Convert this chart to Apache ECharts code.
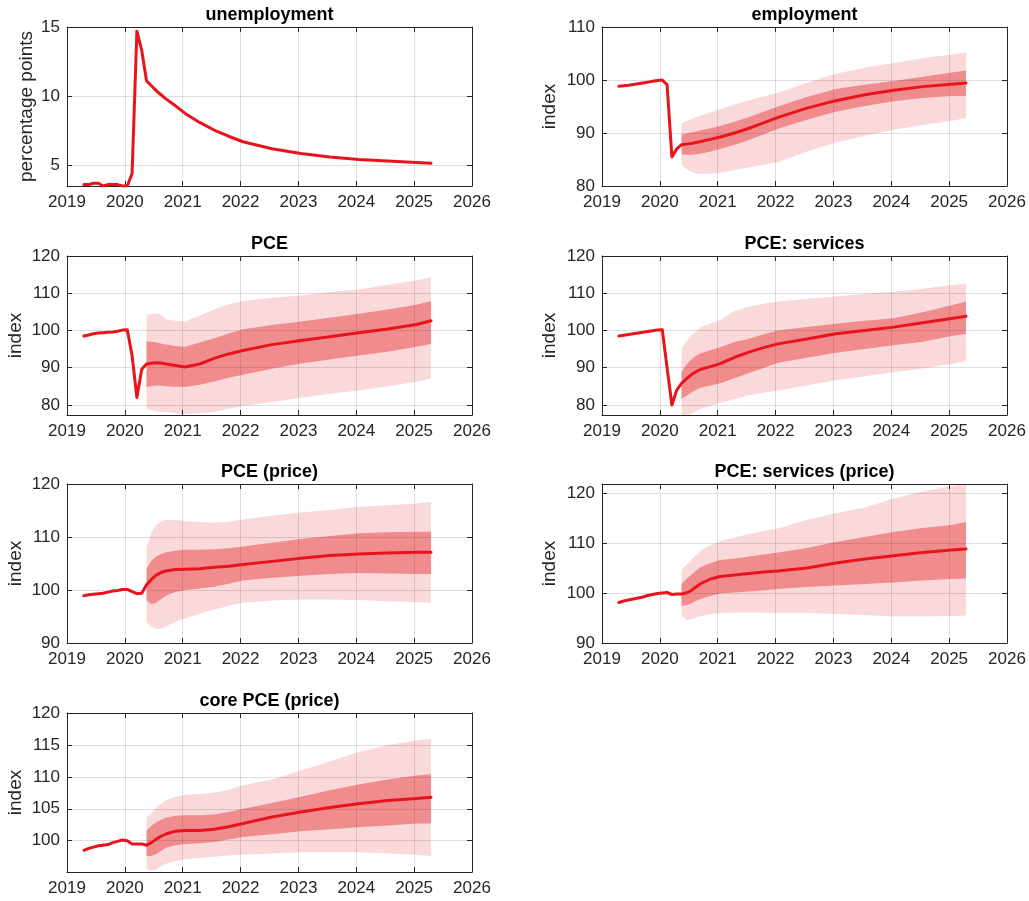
<!DOCTYPE html>
<html>
<head>
<meta charset="utf-8">
<script src="https://cdn.jsdelivr.net/npm/echarts@6/dist/echarts.min.js"></script>
<style>
html,body{margin:0;padding:0;background:#fff;}
#chart{width:1029px;height:901px;}
</style>
</head>
<body>
<div id="chart"></div>
<script>
// ---------- data ----------
const xTicks = [2019, 2020, 2021, 2022, 2023, 2024, 2025, 2026];
// monthly history, May 2019 .. May 2020 (decimal years)
const histX = [2019.292, 2019.375, 2019.458, 2019.542, 2019.625, 2019.708, 2019.792, 2019.875, 2019.958, 2020.042, 2020.125, 2020.208, 2020.292];
// forecast dates, Jun 2020 .. May 2025 (decimal years)
const fcX = [2020.375, 2020.458, 2020.542, 2020.625, 2020.708, 2020.875, 2021.042, 2021.292, 2021.542, 2021.792, 2022.042, 2022.542, 2023.042, 2023.542, 2024.042, 2024.542, 2025.042, 2025.292];

// unemployment
const unempHist = [3.6, 3.6, 3.7, 3.7, 3.5, 3.6, 3.6, 3.6, 3.5, 3.5, 4.4, 14.7, 13.3];
const unempMed  = [11.1, 10.75, 10.4, 10.1, 9.8, 9.3, 8.75, 8.1, 7.55, 7.1, 6.7, 6.2, 5.85, 5.6, 5.42, 5.3, 5.2, 5.15];

// employment
const empHist = [98.8, 98.9, 99.0, 99.15, 99.3, 99.45, 99.6, 99.75, 99.9, 100.0, 99.1, 85.5, 87.0];
const empMed  = [87.8, 87.9, 88.0, 88.2, 88.4, 88.8, 89.25, 90.0, 90.9, 91.9, 92.95, 94.7, 96.1, 97.2, 98.05, 98.75, 99.2, 99.45];
const empHi68 = [89.7, 89.9, 90.1, 90.3, 90.5, 90.9, 91.3, 92.1, 93.0, 94.0, 95.0, 96.8, 98.3, 99.1, 99.8, 100.6, 101.4, 101.8];
const empLo68 = [86.0, 85.9, 85.9, 86.0, 86.1, 86.5, 87.0, 87.8, 88.7, 89.7, 90.8, 92.5, 94.0, 95.1, 96.0, 96.6, 97.0, 97.0];
const empHi90 = [91.8, 92.2, 92.6, 93.0, 93.3, 93.9, 94.5, 95.4, 96.2, 96.9, 97.6, 99.5, 101.2, 102.3, 103.2, 104.1, 104.8, 105.2];
const empLo90 = [84.0, 83.2, 82.7, 82.4, 82.3, 82.3, 82.5, 83.0, 83.5, 84.0, 84.5, 86.5, 88.2, 89.5, 90.6, 91.5, 92.3, 92.8];

// PCE
const pceHist = [98.5, 98.8, 99.1, 99.3, 99.4, 99.5, 99.6, 99.8, 100.1, 100.2, 93.3, 82.0, 89.6];
const pceMed  = [91.0, 91.2, 91.3, 91.25, 91.0, 90.6, 90.2, 91.0, 92.5, 93.7, 94.6, 96.2, 97.3, 98.3, 99.4, 100.4, 101.6, 102.6];
const pceHi68 = [97.1, 97.0, 96.8, 96.5, 96.2, 95.8, 95.6, 96.8, 97.9, 99.2, 100.3, 101.5, 102.4, 103.4, 104.5, 105.6, 106.9, 107.9];
const pceLo68 = [84.8, 85.0, 85.2, 85.2, 85.0, 84.9, 84.8, 85.4, 86.3, 87.3, 88.1, 89.7, 91.1, 92.2, 93.3, 94.3, 95.6, 96.4];
const pceHi90 = [104.2, 104.4, 104.5, 104.3, 103.0, 102.6, 102.4, 104.0, 105.6, 107.0, 108.0, 108.8, 109.4, 110.3, 111.0, 112.3, 113.5, 114.3];
const pceLo90 = [79.0, 78.6, 78.3, 78.1, 78.1, 77.8, 77.5, 77.8, 78.1, 79.0, 79.7, 80.8, 81.9, 83.0, 83.9, 85.0, 86.2, 87.1];

// PCE: services
const svcHist = [98.5, 98.7, 98.9, 99.1, 99.3, 99.5, 99.7, 99.9, 100.1, 100.2, 90.0, 80.0, 84.0];
const svcMed  = [85.8, 87.0, 88.1, 88.9, 89.6, 90.3, 91.1, 92.8, 94.2, 95.4, 96.4, 97.7, 99.1, 100.0, 100.9, 102.1, 103.2, 103.8];
const svcHi68 = [88.8, 90.8, 92.2, 93.2, 93.9, 94.7, 95.5, 96.9, 97.8, 99.0, 100.0, 100.9, 101.8, 102.6, 103.3, 104.9, 106.8, 107.8];
const svcLo68 = [81.7, 82.5, 83.3, 84.0, 84.6, 85.2, 85.8, 87.2, 88.6, 89.9, 91.3, 92.7, 94.0, 95.0, 96.0, 97.0, 98.5, 99.1];
const svcHi90 = [95.1, 97.0, 98.6, 99.8, 100.9, 101.9, 102.8, 105.2, 106.4, 107.2, 107.8, 108.5, 109.1, 109.8, 110.4, 111.2, 112.2, 112.6];
const svcLo90 = [77.2, 77.2, 77.5, 78.3, 79.0, 79.8, 80.5, 81.6, 82.6, 83.3, 83.9, 85.2, 86.6, 87.7, 88.8, 89.8, 91.0, 91.8];

// PCE (price)
const ppHist = [98.9, 99.1, 99.2, 99.3, 99.4, 99.6, 99.8, 99.9, 100.1, 100.1, 99.7, 99.3, 99.4];
const ppMed  = [101.0, 102.0, 102.8, 103.3, 103.6, 103.85, 103.9, 104.0, 104.3, 104.5, 104.8, 105.4, 106.0, 106.5, 106.8, 107.0, 107.1, 107.1];
const ppHi68 = [104.0, 105.5, 106.3, 106.8, 107.1, 107.4, 107.6, 107.6, 107.7, 107.9, 108.2, 108.9, 109.6, 110.2, 110.7, 110.9, 111.0, 111.0];
const ppLo68 = [98.0, 97.3, 97.6, 98.3, 98.9, 99.6, 100.0, 100.3, 100.6, 101.2, 101.8, 102.3, 102.7, 103.0, 103.2, 103.1, 103.0, 103.0];
const ppHi90 = [108.0, 110.8, 112.2, 112.9, 113.2, 113.2, 113.0, 112.8, 112.7, 112.9, 113.3, 114.0, 114.6, 115.1, 115.7, 116.0, 116.3, 116.6];
const ppLo90 = [94.0, 93.0, 92.7, 92.7, 93.1, 94.0, 94.6, 95.5, 96.3, 97.0, 97.6, 98.0, 98.2, 98.2, 98.1, 97.9, 97.7, 97.6];

// PCE: services (price)
const spHist = [98.1, 98.4, 98.6, 98.8, 99.0, 99.2, 99.5, 99.7, 99.9, 100.0, 100.1, 99.7, 99.8];
const spMed  = [99.8, 100.0, 100.5, 101.2, 101.9, 102.8, 103.3, 103.6, 103.9, 104.2, 104.4, 105.0, 106.0, 106.8, 107.45, 108.1, 108.6, 108.8];
const spHi68 = [101.8, 102.8, 103.6, 104.5, 105.2, 106.0, 106.6, 106.9, 107.3, 107.7, 108.1, 109.0, 110.2, 111.2, 112.2, 113.0, 113.6, 114.2];
const spLo68 = [97.4, 97.6, 97.9, 98.4, 98.8, 99.4, 99.9, 100.1, 100.3, 100.5, 100.8, 101.2, 101.5, 101.8, 102.1, 102.5, 102.8, 102.9];
const spHi90 = [104.6, 105.6, 106.6, 107.6, 108.5, 109.6, 110.3, 111.1, 111.8, 112.4, 112.9, 114.6, 116.0, 117.1, 118.9, 120.3, 121.4, 121.9];
const spLo90 = [95.6, 94.6, 94.7, 95.1, 95.4, 95.8, 96.0, 96.1, 96.1, 96.1, 96.0, 96.0, 95.8, 95.6, 95.3, 95.3, 95.4, 95.5];

// core PCE (price)
const cpHist = [98.5, 98.8, 99.0, 99.2, 99.3, 99.4, 99.7, 99.9, 100.1, 100.0, 99.5, 99.5, 99.5];
const cpMed  = [99.3, 99.7, 100.25, 100.7, 101.05, 101.5, 101.6, 101.6, 101.8, 102.2, 102.7, 103.7, 104.5, 105.2, 105.8, 106.3, 106.6, 106.8];
const cpHi68 = [101.6, 102.3, 102.9, 103.3, 103.6, 103.9, 104.0, 104.0, 104.1, 104.5, 105.0, 105.9, 106.9, 107.9, 108.8, 109.6, 110.2, 110.4];
const cpLo68 = [97.6, 97.6, 97.9, 98.4, 98.9, 99.3, 99.5, 99.6, 99.8, 100.2, 100.6, 101.0, 101.5, 101.8, 102.1, 102.4, 102.7, 102.7];
const cpHi90 = [103.6, 104.3, 105.2, 105.8, 106.3, 106.9, 107.2, 107.3, 107.5, 108.0, 108.7, 109.6, 111.0, 112.4, 113.9, 115.0, 115.7, 116.0];
const cpLo90 = [95.6, 95.3, 95.5, 96.0, 96.4, 96.8, 97.1, 97.3, 97.5, 97.7, 97.8, 98.0, 98.2, 98.2, 98.2, 98.0, 97.8, 97.6];

// y-axis ranges and tick labels
const unempTicks = [5, 10, 15];
const empTicks = [80, 90, 100, 110];
const pceTicks = [80, 90, 100, 110, 120];
const priceTicks = [90, 100, 110, 120];
const coreTicks = [100, 105, 110, 115, 120];

const panels = [
  {title: 'unemployment', yName: 'percentage points', yMin: 3.5, yMax: 15, ticks: unempTicks, hist: unempHist, med: unempMed},
  {title: 'employment', yName: 'index', yMin: 80, yMax: 110, ticks: empTicks, hist: empHist, med: empMed, hi68: empHi68, lo68: empLo68, hi90: empHi90, lo90: empLo90},
  {title: 'PCE', yName: 'index', yMin: 77.3, yMax: 120, ticks: pceTicks, hist: pceHist, med: pceMed, hi68: pceHi68, lo68: pceLo68, hi90: pceHi90, lo90: pceLo90},
  {title: 'PCE: services', yName: 'index', yMin: 77.3, yMax: 120, ticks: pceTicks, hist: svcHist, med: svcMed, hi68: svcHi68, lo68: svcLo68, hi90: svcHi90, lo90: svcLo90},
  {title: 'PCE (price)', yName: 'index', yMin: 90, yMax: 120, ticks: priceTicks, hist: ppHist, med: ppMed, hi68: ppHi68, lo68: ppLo68, hi90: ppHi90, lo90: ppLo90},
  {title: 'PCE: services (price)', yName: 'index', yMin: 90, yMax: 121.8, ticks: priceTicks, hist: spHist, med: spMed, hi68: spHi68, lo68: spLo68, hi90: spHi90, lo90: spLo90},
  {title: 'core PCE (price)', yName: 'index', yMin: 95.1, yMax: 120, ticks: coreTicks, hist: cpHist, med: cpMed, hi68: cpHi68, lo68: cpLo68, hi90: cpHi90, lo90: cpLo90}
];

// ---------- layout / style ----------
const FONT = '"Liberation Sans", Arial, Helvetica, sans-serif';
const AX = '#262626';
const GRIDC = 'rgba(38,38,38,0.15)';
const RED = '#e8141c';
const INNER = '#f08c8e';
const OUTER = '#fad9da';
const colLeft = [67, 602];
const rowTop = [27, 256, 484, 713];
const PW = 405, PH = 159;
const nameGaps = [31, 43, 42, 43, 42, 43, 42];

const grids = [], xAxes = [], yAxes = [], series = [], graphics = [];

function bandSeries(i, lo, hi, color) {
  return {
    type: 'custom',
    xAxisIndex: 2 * i, yAxisIndex: 2 * i,
    silent: true, clip: true, z: 1,
    data: fcX.map((x, k) => [x, lo[k], hi[k]]),
    encode: {x: 0, y: [1, 2]},
    renderItem: function (params, api) {
      if (params.dataIndex !== 0) return;
      const pts = [];
      for (let k = 0; k < fcX.length; k++) pts.push(api.coord([fcX[k], hi[k]]));
      for (let k = fcX.length - 1; k >= 0; k--) pts.push(api.coord([fcX[k], lo[k]]));
      return {type: 'polygon', shape: {points: pts}, style: {fill: color, stroke: null}};
    }
  };
}

panels.forEach((p, i) => {
  const col = i % 2, row = Math.floor(i / 2);
  const left = colLeft[col], top = rowTop[row];
  grids.push({left: left, top: top, width: PW, height: PH, show: false, containLabel: false, outerBoundsMode: 'none'});

  const tickStyle = {show: true, inside: true, length: 5, lineStyle: {color: AX, width: 1}};
  xAxes.push({
    type: 'value', gridIndex: i, position: 'bottom', min: 2019, max: 2026, interval: 1, z: 2,
    axisLine: {show: true, onZero: false, lineStyle: {color: AX, width: 1}},
    axisTick: tickStyle,
    axisLabel: {show: true, color: AX, fontSize: 17, fontFamily: FONT, margin: 8, formatter: v => String(v), customValues: xTicks},
    splitLine: {show: true, lineStyle: {color: GRIDC, width: 1}}
  });
  xAxes.push({
    type: 'value', gridIndex: i, position: 'top', min: 2019, max: 2026, interval: 1, z: 2,
    axisLine: {show: true, onZero: false, lineStyle: {color: AX, width: 1}},
    axisTick: tickStyle, axisLabel: {show: false}, splitLine: {show: false}
  });
  yAxes.push({
    type: 'value', gridIndex: i, position: 'left', min: p.yMin, max: p.yMax, z: 2,
    name: p.yName, nameLocation: 'middle', nameGap: nameGaps[i],
    nameTextStyle: {color: AX, fontSize: 19, fontFamily: FONT},
    axisLine: {show: true, onZero: false, lineStyle: {color: AX, width: 1}},
    axisTick: {show: true, inside: true, length: 5, lineStyle: {color: AX, width: 1}, customValues: p.ticks},
    axisLabel: {show: true, color: AX, fontSize: 17, fontFamily: FONT, margin: 7, customValues: p.ticks, formatter: v => String(v)},
    splitLine: {show: true, lineStyle: {color: GRIDC, width: 1}}
  });
  yAxes.push({
    type: 'value', gridIndex: i, position: 'right', min: p.yMin, max: p.yMax, z: 2,
    axisLine: {show: true, onZero: false, lineStyle: {color: AX, width: 1}},
    axisTick: {show: true, inside: true, length: 5, lineStyle: {color: AX, width: 1}, customValues: p.ticks},
    axisLabel: {show: false}, splitLine: {show: false}
  });

  if (p.hi90) {
    series.push(bandSeries(i, p.lo90, p.hi90, OUTER));
    series.push(bandSeries(i, p.lo68, p.hi68, INNER));
  }
  const lineData = histX.map((x, k) => [x, p.hist[k]]).concat(fcX.map((x, k) => [x, p.med[k]]));
  series.push({
    type: 'line', xAxisIndex: 2 * i, yAxisIndex: 2 * i, data: lineData,
    showSymbol: false, symbol: 'none', silent: true, clip: true, z: 3,
    lineStyle: {color: RED, width: 3, join: 'round', cap: 'round'}
  });

  graphics.push({
    type: 'text', left: null, x: left + PW / 2, y: top - 12, z: 10,
    style: {text: p.title, fill: '#000', fontSize: 18, fontWeight: 'bold', fontFamily: FONT, align: 'center', verticalAlign: 'middle'}
  });
});

const chart = echarts.init(document.getElementById('chart'), null, {renderer: 'canvas'});
chart.setOption({
  animation: false,
  backgroundColor: '#fff',
  grid: grids,
  xAxis: xAxes,
  yAxis: yAxes,
  series: series,
  graphic: graphics
});
</script>
</body>
</html>
